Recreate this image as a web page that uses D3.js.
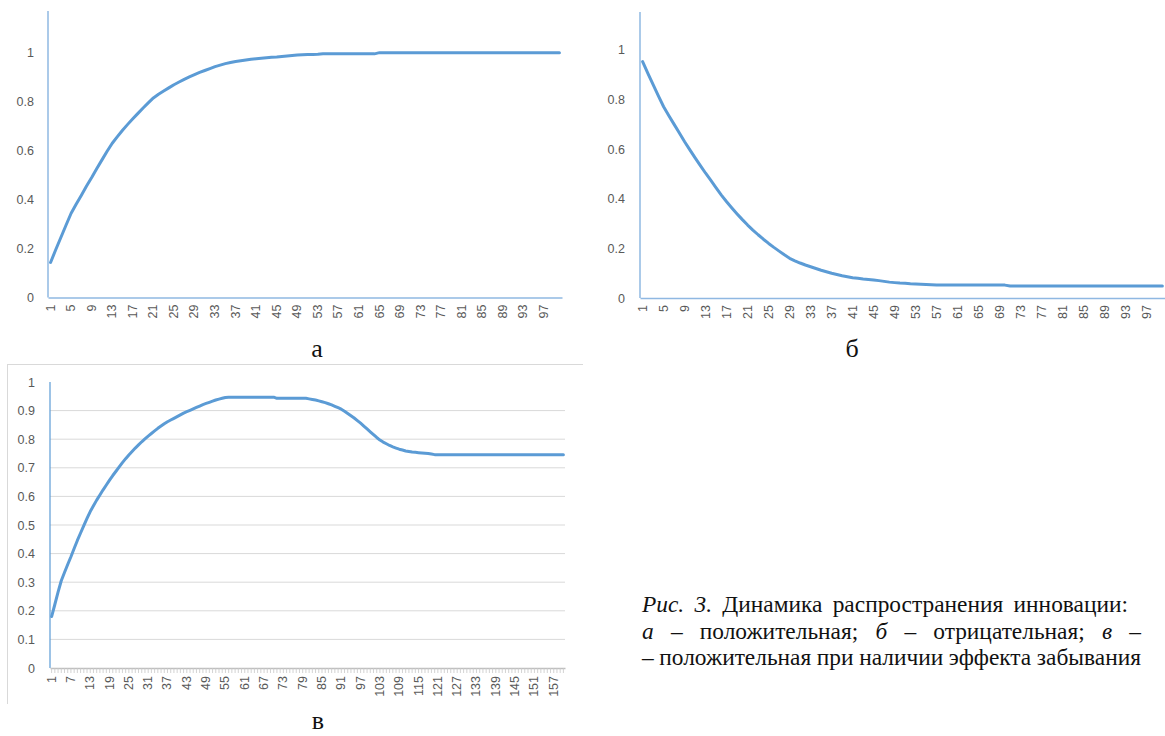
<!DOCTYPE html>
<html>
<head>
<meta charset="utf-8">
<script src="https://cdn.jsdelivr.net/npm/d3@7/dist/d3.min.js"></script>
<style>
  html, body { margin: 0; padding: 0; background: #fff; }
  svg { display: block; }
</style>
</head>
<body>
<svg id="fig" width="1165" height="736"></svg>
<script>
// ---- data -------------------------------------------------------------
// (а) positive dynamics, steps 1..100
const seriesA = [
  0.143,0.195,0.245,0.295,0.344,0.382,0.418,0.455,0.490,0.527,
  0.562,0.597,0.630,0.657,0.683,0.707,0.730,0.752,0.774,0.795,
  0.815,0.830,0.843,0.856,0.869,0.880,0.891,0.901,0.910,0.919,
  0.927,0.935,0.943,0.949,0.955,0.960,0.964,0.967,0.970,0.973,
  0.975,0.977,0.979,0.981,0.982,0.984,0.986,0.988,0.990,0.991,
  0.992,0.992,0.993,0.995,0.995,0.995,0.995,0.995,0.995,0.995,
  0.995,0.995,0.995,0.995,1,1,1,1,1,1,
  1,1,1,1,1,1,1,1,1,1,
  1,1,1,1,1,1,1,1,1,1,
  1,1,1,1,1,1,1,1,1,1
];
// (б) negative dynamics, steps 1..100
const seriesB = [
  0.953,0.906,0.860,0.815,0.771,0.735,0.700,0.665,0.630,0.597,
  0.565,0.534,0.503,0.474,0.444,0.415,0.388,0.363,0.339,0.316,
  0.294,0.274,0.255,0.237,0.220,0.204,0.189,0.174,0.160,0.150,
  0.141,0.133,0.126,0.119,0.112,0.106,0.100,0.095,0.090,0.086,
  0.082,0.080,0.077,0.075,0.073,0.070,0.067,0.064,0.062,0.060,
  0.059,0.057,0.056,0.055,0.054,0.053,0.052,0.052,0.052,0.052,
  0.052,0.052,0.052,0.052,0.052,0.052,0.052,0.052,0.052,0.052,
  0.048,0.048,0.048,0.048,0.048,0.048,0.048,0.048,0.048,0.048,
  0.048,0.048,0.048,0.048,0.048,0.048,0.048,0.048,0.048,0.048,
  0.048,0.048,0.048,0.048,0.048,0.048,0.048,0.048,0.048,0.048
];
// (в) positive dynamics with forgetting, steps 1..160
const seriesC = [
  0.180,0.222,0.265,0.305,0.334,0.362,0.389,0.418,0.446,0.472,
  0.498,0.523,0.547,0.567,0.587,0.605,0.623,0.640,0.657,0.673,
  0.688,0.703,0.718,0.732,0.745,0.757,0.769,0.780,0.791,0.801,
  0.811,0.820,0.829,0.838,0.846,0.854,0.861,0.867,0.873,0.879,
  0.885,0.891,0.896,0.901,0.906,0.911,0.916,0.921,0.925,0.929,
  0.933,0.937,0.940,0.943,0.946,0.947,0.947,0.947,0.947,0.947,
  0.947,0.947,0.947,0.947,0.947,0.947,0.947,0.947,0.947,0.947,
  0.943,0.943,0.943,0.943,0.943,0.943,0.943,0.943,0.943,0.943,
  0.941,0.939,0.937,0.934,0.931,0.928,0.924,0.920,0.915,0.910,
  0.905,0.898,0.890,0.882,0.874,0.865,0.856,0.846,0.836,0.826,
  0.816,0.806,0.797,0.790,0.784,0.778,0.773,0.769,0.765,0.762,
  0.759,0.757,0.755,0.754,0.753,0.752,0.751,0.750,0.748,0.746,
  0.746,0.746,0.746,0.746,0.746,0.746,0.746,0.746,0.746,0.746,
  0.746,0.746,0.746,0.746,0.746,0.746,0.746,0.746,0.746,0.746,
  0.746,0.746,0.746,0.746,0.746,0.746,0.746,0.746,0.746,0.746,
  0.746,0.746,0.746,0.746,0.746,0.746,0.746,0.746,0.746,0.746
];

const categoriesA = d3.range(1, seriesA.length + 1);
const categoriesB = d3.range(1, seriesB.length + 1);
const categoriesC = d3.range(1, seriesC.length + 1);

const xLabelsAB = [1,5,9,13,17,21,25,29,33,37,41,45,49,53,57,61,65,69,73,77,81,85,89,93,97];
const xLabelsC  = [1,7,13,19,25,31,37,43,49,55,61,67,73,79,85,91,97,103,109,115,121,127,133,139,145,151,157];
const yTicksAB  = [0,0.2,0.4,0.6,0.8,1];
const yTicksC   = [0,0.1,0.2,0.3,0.4,0.5,0.6,0.7,0.8,0.9,1];

const panelLetters = ["а", "б", "в"];
const captionLine1 = [
  {t: "Рис.", it: true}, {t: "3.", it: true}, {t: "Динамика"},
  {t: "распространения"}, {t: "инновации:"}
];
const captionLine2 = [
  {t: "а", it: true}, {t: "–"}, {t: "положительная;"},
  {t: "б", it: true}, {t: "–"}, {t: "отрицательная;"},
  {t: "в", it: true}, {t: "–"}
];
const captionLine3 = [
  {t: "–"}, {t: "положительная"}, {t: "при"}, {t: "наличии"},
  {t: "эффекта"}, {t: "забывания"}
];

// ---- styles -----------------------------------------------------------
const LINE = "#5b9bd5";
const AXIS_BLUE = "#8fb8e2";
const GRID = "#d9d9d9";
const LABEL = "#595959";
const SANS = "'Liberation Sans', Arial, sans-serif";
const SERIF = "'Liberation Serif', 'Times New Roman', serif";

const svg = d3.select("#fig");

function drawPanel(opt) {
  const g = svg.append("g");
  const x = d3.scaleBand().domain(opt.cats).range(opt.xRange).padding(0);
  const y = d3.scaleLinear().domain(opt.yDomain).range(opt.yRange);
  const cx = d => x(d) + x.bandwidth() / 2;

  if (opt.grid) {
    g.append("g").selectAll("line")
      .data(opt.yTicks.filter(v => v > 0 && v < 1))
      .join("line")
      .attr("x1", opt.xRange[0]).attr("x2", opt.xRange[1])
      .attr("y1", d => y(d)).attr("y2", d => y(d))
      .attr("stroke", GRID).attr("stroke-width", 1);
  }

  // y axis
  const ya = g.append("g")
    .attr("transform", `translate(${opt.xRange[0]},0)`)
    .call(d3.axisLeft(y).tickValues(opt.yTicks).tickSize(0)
      .tickPadding(opt.yPad).tickFormat(d3.format("~g")));
  ya.select(".domain").remove();
  ya.append("line")
    .attr("x1", 0).attr("x2", 0)
    .attr("y1", y(0)).attr("y2", opt.yAxisTop)
    .attr("stroke", opt.yAxisColor).attr("stroke-width", opt.yAxisWidth);
  ya.selectAll("text")
    .attr("fill", LABEL).style("font-family", SANS).style("font-size", opt.fontSize + "px");

  // x axis
  const labelSet = new Set(opt.xLabels);
  const xa = g.append("g")
    .attr("transform", `translate(0,${y(0)})`)
    .call(d3.axisBottom(x)
      .tickValues(opt.xTicksAll ? opt.cats : opt.xLabels)
      .tickSize(opt.xTickSize)
      .tickSizeOuter(0)
      .tickFormat(d => labelSet.has(d) ? d : ""));
  xa.select(".domain").attr("stroke", opt.xAxisColor).attr("stroke-width", 1.5);
  xa.selectAll(".tick line").attr("stroke", "#c8c8c8").attr("stroke-width", 0.8);
  xa.selectAll(".tick text")
    .attr("x", 0).attr("y", 0).attr("dy", null)
    .attr("transform", `translate(0,${opt.xLabelOffset}) rotate(-90)`)
    .attr("text-anchor", "end")
    .attr("dominant-baseline", "central")
    .attr("fill", LABEL).style("font-family", SANS).style("font-size", opt.fontSize + "px");

  // series line
  const line = d3.line()
    .x((d, i) => cx(opt.cats[i]))
    .y(d => y(d));
  g.append("path")
    .datum(opt.values)
    .attr("fill", "none")
    .attr("stroke", LINE)
    .attr("stroke-width", 3)
    .attr("stroke-linejoin", "round")
    .attr("stroke-linecap", "round")
    .attr("d", line);
}

// chart frame around (в)
svg.append("line").attr("x1", 7).attr("x2", 583).attr("y1", 364.5).attr("y2", 364.5)
  .attr("stroke", GRID).attr("stroke-width", 1);
svg.append("line").attr("x1", 7.5).attr("x2", 7.5).attr("y1", 364).attr("y2", 704)
  .attr("stroke", GRID).attr("stroke-width", 1);

drawPanel({
  cats: categoriesA, values: seriesA,
  xRange: [48, 562], yDomain: [0, 1.17], yRange: [297.5, 11],
  yTicks: yTicksAB, yPad: 14, yAxisTop: 11, yAxisColor: AXIS_BLUE, yAxisWidth: 1.5,
  xLabels: xLabelsAB, xTicksAll: false, xTickSize: 0, xAxisColor: AXIS_BLUE,
  xLabelOffset: 7, fontSize: 12.5, grid: false
});
drawPanel({
  cats: categoriesB, values: seriesB,
  xRange: [640, 1165], yDomain: [0, 1.153], yRange: [298, 12],
  yTicks: yTicksAB, yPad: 15, yAxisTop: 12, yAxisColor: AXIS_BLUE, yAxisWidth: 1.5,
  xLabels: xLabelsAB, xTicksAll: false, xTickSize: 0, xAxisColor: AXIS_BLUE,
  xLabelOffset: 7, fontSize: 12.5, grid: false
});
drawPanel({
  cats: categoriesC, values: seriesC,
  xRange: [50, 565], yDomain: [0, 1], yRange: [668, 382],
  yTicks: yTicksC, yPad: 15, yAxisTop: 382, yAxisColor: LINE, yAxisWidth: 1.2,
  xLabels: xLabelsC, xTicksAll: true, xTickSize: 5, xAxisColor: "#bfbfbf",
  xLabelOffset: 8, fontSize: 12.5, grid: true
});

// panel letters
const letterPos = [[317, 357], [852, 357], [318, 729]];
svg.append("g").selectAll("text")
  .data(panelLetters)
  .join("text")
  .attr("x", (d, i) => letterPos[i][0])
  .attr("y", (d, i) => letterPos[i][1])
  .attr("text-anchor", "middle")
  .style("font-family", SERIF).style("font-size", "26px").attr("fill", "#111")
  .text(d => d);

// caption: each line is laid out word by word between a left and right edge
const capX = 642, capSize = 23.4;
const cap = svg.append("g")
  .style("font-family", SERIF).style("font-size", capSize + "px").attr("fill", "#111");

function layoutLine(wordsSpec, baseline, right) {
  const words = wordsSpec.map(w => cap.append("text")
    .attr("y", baseline).style("font-style", w.it ? "italic" : "normal").text(w.t));
  const widths = words.map(w => w.node().getComputedTextLength());
  const gap = (right - capX - d3.sum(widths)) / (words.length - 1);
  let cursor = capX;
  words.forEach((w, i) => { w.attr("x", cursor); cursor += widths[i] + gap; });
}
layoutLine(captionLine1, 612, 1128);
layoutLine(captionLine2, 638.5, 1141);
layoutLine(captionLine3, 665, 1141);
</script>
</body>
</html>
